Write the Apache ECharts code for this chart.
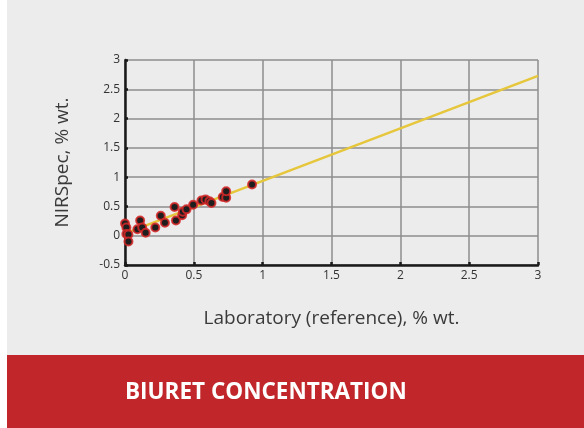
<!DOCTYPE html>
<html>
<head>
<meta charset="utf-8">
<script src="https://cdn.jsdelivr.net/npm/echarts@6/dist/echarts.min.js"></script>
<style>
html,body{margin:0;padding:0;background:#fff;}
#c{width:584px;height:428px;}
</style>
</head>
<body>
<div id="c"></div>
<script>
// Data
var labX = [0.00, 0.01, 0.01, 0.025, 0.025, 0.09, 0.11, 0.125, 0.15, 0.22, 0.26, 0.29, 0.36, 0.37, 0.415, 0.42, 0.447, 0.495, 0.555, 0.585, 0.613, 0.628, 0.71, 0.735, 0.735, 0.923];
var nirY = [0.21, 0.14, 0.03, 0.02, -0.10, 0.11, 0.26, 0.14, 0.05, 0.14, 0.34, 0.22, 0.49, 0.26, 0.35, 0.41, 0.45, 0.53, 0.60, 0.62, 0.59, 0.56, 0.66, 0.65, 0.76, 0.875];
var fitX = [0.02, 3.0];
var fitY = [0.058, 2.73];
var title = 'BIURET CONCENTRATION';
var xName = 'Laboratory (reference), % wt.';
var yName = 'NIRSpec, % wt.';

var pts = labX.map(function (x, i) { return [x, nirY[i]]; });
var fit = fitX.map(function (x, i) { return [x, fitY[i]]; });

var chart = echarts.init(document.getElementById('c'), null, {renderer: 'canvas'});
chart.setOption({
  animation: false,
  backgroundColor: '#ffffff',
  graphic: [
    {type: 'rect', left: 7, top: 0, shape: {width: 577, height: 355}, style: {fill: '#ececec'}, z: -10},
    {type: 'rect', left: 7, top: 355, shape: {width: 577, height: 73}, style: {fill: '#c1272a'}, z: -10},
    {type: 'text', left: 125, top: 381, style: {text: title, fill: '#ffffff', font: 'bold 22.5px "Open Sans"'}}
  ],
  grid: {left: 125, right: 46, top: 60, bottom: 163},
  xAxis: {
    type: 'value', min: 0, max: 3, interval: 0.5,
    name: xName, nameLocation: 'middle', nameGap: 44,
    nameTextStyle: {fontFamily: 'Open Sans', fontSize: 19, color: '#3a3a3a'},
    axisLine: {show: true, onZero: false, lineStyle: {color: '#1a1a1a', width: 2.5}},
    axisTick: {show: true, inside: true, length: 3, lineStyle: {color: '#1a1a1a', width: 2.5}},
    axisLabel: {fontFamily: 'Open Sans', fontSize: 12, color: '#333', margin: 5},
    splitLine: {show: true, lineStyle: {color: '#8e8e8e', width: 1.5}}
  },
  yAxis: {
    type: 'value', min: -0.5, max: 3, interval: 0.5,
    name: yName, nameLocation: 'middle', nameGap: 53,
    nameTextStyle: {fontFamily: 'Open Sans', fontSize: 19, color: '#3a3a3a'},
    axisLine: {show: true, onZero: false, lineStyle: {color: '#1a1a1a', width: 2.5}},
    axisTick: {show: true, inside: true, length: 3, lineStyle: {color: '#1a1a1a', width: 2.5}},
    axisLabel: {fontFamily: 'Open Sans', fontSize: 12, color: '#333', margin: 5},
    splitLine: {show: true, lineStyle: {color: '#8e8e8e', width: 1.5}}
  },
  series: [
    {
      type: 'line', data: fit, symbol: 'none', z: 2,
      lineStyle: {color: '#e6c63b', width: 2.5}
    },
    {
      type: 'scatter', data: pts, symbol: 'circle', symbolSize: 8, z: 3,
      itemStyle: {color: '#1e1e1e', borderColor: 'rgba(215,40,40,0.85)', borderWidth: 2, opacity: 1}
    }
  ]
});
</script>
</body>
</html>
